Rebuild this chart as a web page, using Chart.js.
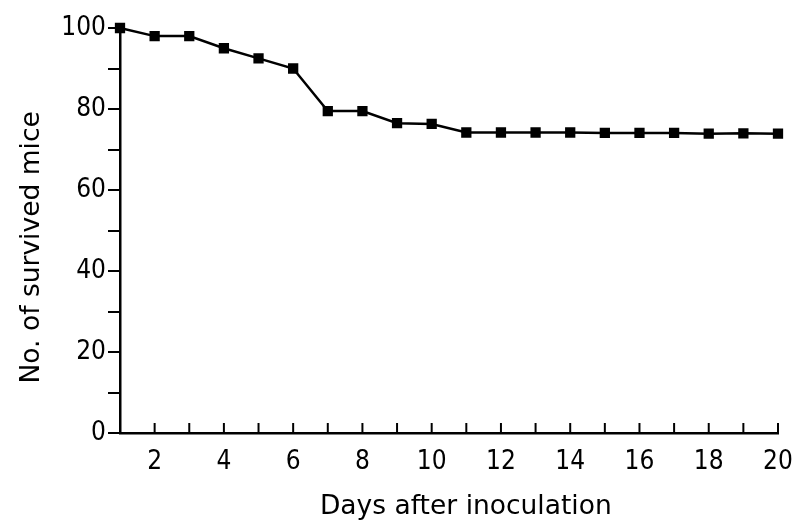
<!DOCTYPE html>
<html>
<head>
<meta charset="utf-8">
<script src="https://cdn.jsdelivr.net/npm/chart.js@4"></script>
<style>
  html, body { margin: 0; padding: 0; background: #fff; }
  #wrap { width: 810px; height: 525px; }
</style>
</head>
<body>
<div id="wrap"><canvas id="chart" width="810" height="525"></canvas></div>
<script>
const days = [1, 2, 3, 4, 5, 6, 7, 8, 9, 10, 11, 12, 13, 14, 15, 16, 17, 18, 19, 20];
const survived = [100, 98, 98, 95, 92.5, 90, 79.5, 79.5, 76.5, 76.3, 74.2, 74.2, 74.2, 74.2, 74.1, 74.1, 74.1, 73.9, 74, 73.9];
const yLabels = [0, 20, 40, 60, 80, 100];
const xLabels = [2, 4, 6, 8, 10, 12, 14, 16, 18, 20];

const tickFont = { family: "'Liberation Sans Narrow', 'DejaVu Sans Condensed', sans-serif", size: 26 };
const titleFont = { family: "'DejaVu Sans', sans-serif", size: 26.5 };

// x ticks in the figure point up into the plot
const innerTicks = {
    id: 'innerTicks',
    afterDraw(chart) {
        const x = chart.scales.x;
        const ctx = chart.ctx;
        ctx.save();
        ctx.strokeStyle = '#000';
        ctx.lineWidth = 2;
        days.slice(1).forEach(d => {
            const px = x.getPixelForValue(d);
            ctx.beginPath();
            ctx.moveTo(px, x.top);
            ctx.lineTo(px, x.top - 10);
            ctx.stroke();
        });
        ctx.restore();
    }
};

new Chart(document.getElementById('chart').getContext('2d'), {
    type: 'line',
    data: {
        datasets: [{
            data: days.map((d, i) => ({ x: d, y: survived[i] })),
            borderColor: '#000',
            backgroundColor: '#000',
            borderWidth: 2.5,
            pointStyle: 'rect',
            pointRadius: 5.5,
            tension: 0,
            clip: false
        }]
    },
    options: {
        responsive: false,
        animation: false,
        layout: { padding: { top: 28, right: 32, left: 0, bottom: 0 } },
        plugins: { legend: { display: false }, tooltip: { enabled: false } },
        scales: {
            x: {
                type: 'linear',
                min: 1,
                max: 20,
                afterFit: s => { s.height = 92; },
                border: { color: '#000', width: 2.5 },
                grid: { display: false, drawTicks: false },
                ticks: {
                    stepSize: 1,
                    padding: 14,
                    color: '#000',
                    font: tickFont,
                    maxRotation: 0,
                    autoSkip: false,
                    callback: v => xLabels.includes(v) ? String(v) : ''
                },
                title: {
                    display: true,
                    text: '    Days after inoculation',
                    color: '#000',
                    font: titleFont,
                    padding: { top: 0, bottom: 2 }
                }
            },
            y: {
                min: 0,
                max: 100,
                afterFit: s => { s.width = 120; },
                border: { color: '#000', width: 2.5 },
                grid: { drawOnChartArea: false, drawTicks: true, tickLength: 12, color: '#000', lineWidth: 2 },
                ticks: {
                    stepSize: 10,
                    padding: 2,
                    color: '#000',
                    font: tickFont,
                    callback: v => yLabels.includes(v) ? String(v) : ''
                },
                title: {
                    display: true,
                    text: 'No. of survived mice    ',
                    color: '#000',
                    font: titleFont,
                    padding: { top: 16, bottom: 0 }
                }
            }
        }
    },
    plugins: [innerTicks]
});
</script>
</body>
</html>
